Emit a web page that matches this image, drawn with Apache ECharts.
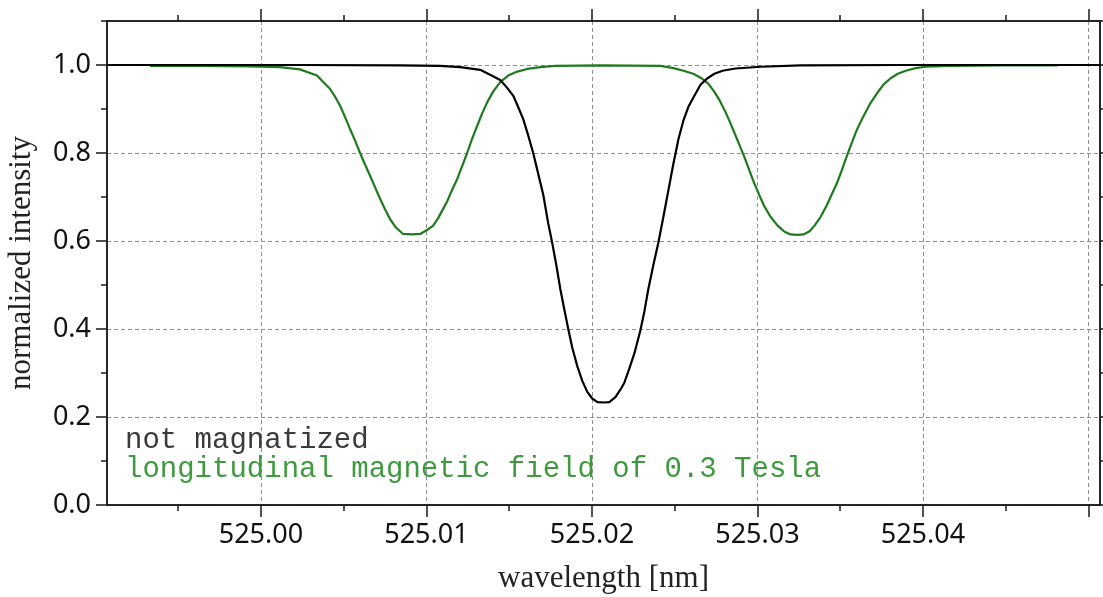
<!DOCTYPE html>
<html>
<head>
<meta charset="utf-8">
<script src="https://cdn.jsdelivr.net/npm/echarts@6/dist/echarts.min.js"></script>
<style>
html,body{margin:0;padding:0;background:#fff;}
#chart{width:1103px;height:597px;}
</style>
</head>
<body>
<div id="chart"></div>
<script>
// wavelength [nm] / normalized intensity
const blackX = [524.99068,524.99631,525.00236,525.00841,525.01083,525.01204,525.01325,525.01385,525.01446,525.01488,
  525.01525,525.01555,525.01585,525.01615,525.01646,525.01676,525.01706,525.01736,525.01760,525.01785,
  525.01809,525.01833,525.01857,525.01881,525.01912,525.01942,525.01972,525.02002,525.02033,525.02069,
  525.02105,525.02142,525.02172,525.02196,525.02226,525.02257,525.02293,525.02317,525.02341,525.02371,
  525.02402,525.02432,525.02462,525.02492,525.02523,525.02553,525.02583,525.02619,525.02656,525.02698,
  525.02740,525.02789,525.02868,525.03019,525.03261,525.03866,525.04471,525.05076];
const blackY = [1.000,1.000,1.000,0.999,0.998,0.995,0.989,0.978,0.966,0.948,
  0.930,0.904,0.877,0.840,0.799,0.752,0.705,0.640,0.596,0.545,
  0.491,0.445,0.400,0.358,0.315,0.282,0.257,0.242,0.234,0.233,
  0.234,0.245,0.262,0.278,0.310,0.345,0.397,0.440,0.491,0.545,
  0.597,0.655,0.715,0.775,0.832,0.874,0.905,0.930,0.955,0.970,
  0.980,0.987,0.992,0.996,0.999,1.000,1.000,1.000];

const greenX = [524.99329,524.99631,524.99933,525.00115,525.00236,525.00296,525.00339,525.00375,525.00417,525.00448,
  525.00478,525.00508,525.00538,525.00569,525.00599,525.00629,525.00659,525.00690,525.00720,525.00750,
  525.00780,525.00817,525.00859,525.00913,525.00962,525.01004,525.01041,525.01071,525.01101,525.01125,
  525.01155,525.01186,525.01216,525.01246,525.01276,525.01307,525.01337,525.01367,525.01404,525.01446,
  525.01494,525.01549,525.01609,525.01688,525.01779,525.02051,525.02414,525.02492,525.02553,525.02613,
  525.02662,525.02704,525.02740,525.02771,525.02801,525.02831,525.02861,525.02892,525.02922,525.02952,
  525.02982,525.03013,525.03043,525.03079,525.03122,525.03164,525.03200,525.03243,525.03279,525.03315,
  525.03345,525.03382,525.03418,525.03448,525.03479,525.03509,525.03539,525.03569,525.03600,525.03636,
  525.03684,525.03727,525.03763,525.03805,525.03848,525.03896,525.03956,525.04017,525.04168,525.04471,525.04815];
const greenY = [0.998,0.998,0.997,0.995,0.990,0.982,0.976,0.962,0.946,0.928,
  0.908,0.882,0.855,0.828,0.800,0.774,0.749,0.722,0.696,0.672,
  0.650,0.630,0.616,0.615,0.616,0.625,0.635,0.652,0.673,0.690,
  0.716,0.741,0.770,0.800,0.832,0.862,0.890,0.915,0.940,0.961,
  0.976,0.985,0.991,0.995,0.998,0.999,0.998,0.993,0.987,0.980,
  0.970,0.957,0.939,0.920,0.898,0.873,0.846,0.818,0.790,0.760,
  0.730,0.703,0.678,0.655,0.635,0.621,0.615,0.614,0.615,0.622,
  0.635,0.655,0.680,0.705,0.730,0.760,0.792,0.822,0.852,0.880,
  0.914,0.938,0.956,0.970,0.980,0.987,0.993,0.996,0.998,0.999,0.999];

const xMajor = [525.00,525.01,525.02,525.03,525.04,525.05];
const xLabels = [525.00,525.01,525.02,525.03,525.04];
const xMinor = [524.995,525.005,525.015,525.025,525.035,525.045];
const yMajor = [0,0.2,0.4,0.6,0.8,1.0];
const yMinor = [0.1,0.3,0.5,0.7,0.9,1.1];
const seriesNames = ['not magnatized','longitudinal magnetic field of 0.3 Tesla'];

const X_MIN = 524.9907, X_MAX = 525.0507, Y_MIN = 0, Y_MAX = 1.1;

const pairs = (xs, ys) => xs.map((x,i)=>[x, ys[i]]);
const AX = '#1a1a1a';
const grid = {type:[4,3], color:'#8f8f8f', width:1};

function xAx(pos, vals, len, opts){
  return Object.assign({
    type:'value', position:pos, min:X_MIN, max:X_MAX, scale:true,
    axisLine:{show:true, onZero:false, lineStyle:{color:AX, width:1.5}},
    axisTick:{show:true, inside:false, length:len, customValues:vals, lineStyle:{color:AX, width:1.5}},
    axisLabel:{show:false}, splitLine:{show:false}
  }, opts||{});
}
function yAx(pos, vals, len, opts){
  return Object.assign({
    type:'value', position:pos, min:Y_MIN, max:Y_MAX,
    axisLine:{show:true, onZero:false, lineStyle:{color:AX, width:1.5}},
    axisTick:{show:true, inside:false, length:len, customValues:vals, lineStyle:{color:AX, width:1.5}},
    axisLabel:{show:false}, splitLine:{show:false}
  }, opts||{});
}

const chart = echarts.init(document.getElementById('chart'), null, {renderer:'canvas'});
chart.setOption({
  animation:false,
  backgroundColor:'#fff',
  grid:{left:107, right:3, top:21, bottom:92, containLabel:false, outerBoundsMode:'none'},
  legend:{
    orient:'vertical', left:115, top:421, icon:'none', itemWidth:0, itemHeight:10, itemGap:0,
    selectedMode:false,
    textStyle:{fontFamily:'Liberation Mono', fontSize:29, lineHeight:28},
    data:[
      {name:seriesNames[0], textStyle:{color:'#3a3a3a'}},
      {name:seriesNames[1], textStyle:{color:'#3f9a3f'}}
    ]
  },
  xAxis:[
    xAx('bottom', xMajor, 12, {
      name:'wavelength [nm]', nameLocation:'middle', nameGap:58,
      nameTextStyle:{fontFamily:'Liberation Serif', fontSize:31, color:'#222'},
      axisLabel:{show:true, customValues:xLabels, margin:17, formatter:v=>v.toFixed(2),
        fontFamily:'Noto Sans', fontSize:27, color:'#111'},
      splitLine:{show:true, lineStyle:grid}
    }),
    xAx('bottom', xMinor, 6),
    xAx('top', xMajor, 12),
    xAx('top', xMinor, 6)
  ],
  yAxis:[
    yAx('left', yMajor, 11, {
      name:'normalized intensity', nameLocation:'middle', nameGap:70,
      nameTextStyle:{fontFamily:'Liberation Serif', fontSize:31, color:'#222'},
      axisLabel:{show:true, customValues:yMajor, margin:16, formatter:v=>v.toFixed(1),
        fontFamily:'Noto Sans', fontSize:27, color:'#111'},
      splitLine:{show:true, lineStyle:grid}
    }),
    yAx('left', yMinor, 6),
    yAx('right', yMajor, 11),
    yAx('right', yMinor, 6)
  ],
  series:[
    {name:seriesNames[1], type:'line', xAxisIndex:0, yAxisIndex:0, showSymbol:false, smooth:false,
      lineStyle:{color:'#1f7a1f', width:2.2}, itemStyle:{color:'#1f7a1f'}, data:pairs(greenX, greenY)},
    {name:seriesNames[0], type:'line', xAxisIndex:0, yAxisIndex:0, showSymbol:false, smooth:false,
      lineStyle:{color:'#000', width:2.2}, itemStyle:{color:'#000'}, data:pairs(blackX, blackY), z:3}
  ]
});
</script>
</body>
</html>
